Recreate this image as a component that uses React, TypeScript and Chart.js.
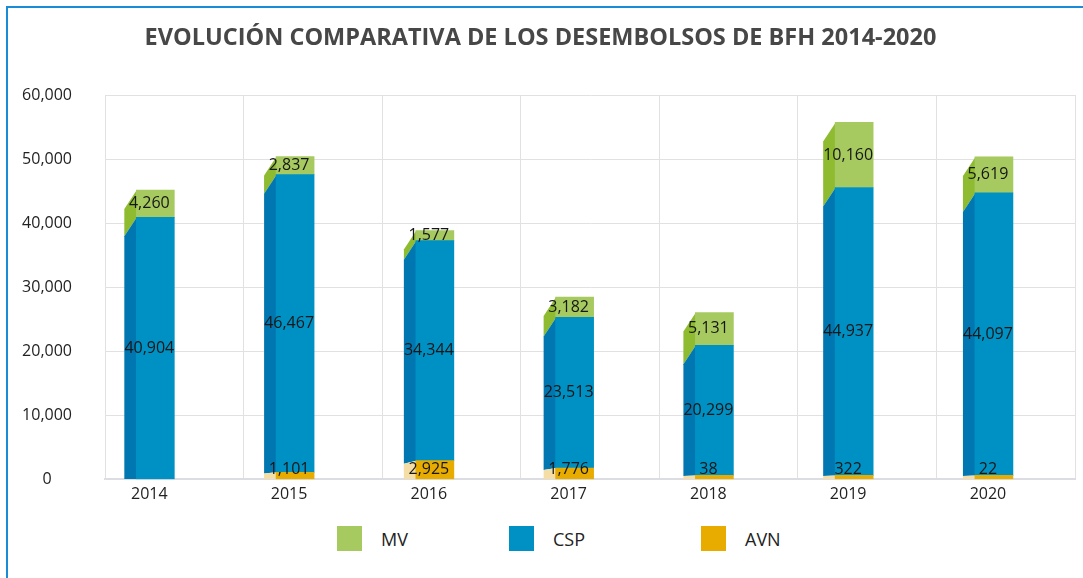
import React, { useEffect, useRef } from 'react';
import { Chart, registerables } from 'chart.js';

Chart.register(...registerables);

const TITLE = 'EVOLUCIÓN COMPARATIVA DE LOS DESEMBOLSOS DE BFH 2014-2020';
const YEARS = ['2014', '2015', '2016', '2017', '2018', '2019', '2020'];
const AVN: (number | null)[] = [null, 1101, 2925, 1776, 38, 322, 22];
const CSP = [40904, 46467, 34344, 23513, 20299, 44937, 44097];
const MV = [4260, 2837, 1577, 3182, 5131, 10160, 5619];
const SERIES_NAMES = ['AVN', 'CSP', 'MV'];
const LEGEND_ORDER = ['MV', 'CSP', 'AVN'];

const FRONT: Record<string, string> = { AVN: '#e8ac00', CSP: '#0091c4', MV: '#a6ca5f' };
const SIDE: Record<string, string> = { AVN: '#f4dea6', CSP: '#0077b0', MV: '#8ebb30' };
const LEGEND_X = [337, 509, 701];

const FONT = "'Open Sans', sans-serif";
const DEPTH = 12;

const sidePlugin = {
  id: 'side3d',
  beforeDatasetsDraw(chart: any) {
    const ctx = chart.ctx;
    const zero = chart.scales.y.getPixelForValue(0);
    const off = (p: number) => Math.min(19, Math.max(0, (zero - p) * 0.17));
    ctx.save();
    for (let d = chart.data.datasets.length - 1; d >= 0; d--) {
      const meta = chart.getDatasetMeta(d);
      const name = chart.data.datasets[d].label;
      ctx.fillStyle = SIDE[name];
      meta.data.forEach((el: any, i: number) => {
        const v = chart.data.datasets[d].data[i]?.y;
        if (v == null) return;
        const { x, y, base, width } = el.getProps(['x', 'y', 'base', 'width'], true);
        const L = x - width / 2;
        ctx.beginPath();
        ctx.moveTo(L + 0.5, y);
        ctx.lineTo(L - DEPTH, y + off(y));
        ctx.lineTo(L - DEPTH, base + off(base));
        ctx.lineTo(L + 0.5, base);
        ctx.closePath();
        ctx.fill();
      });
    }
    ctx.restore();
  },
};

const labelPlugin = {
  id: 'valueLabels',
  afterDatasetsDraw(chart: any) {
    const ctx = chart.ctx;
    const zero = chart.scales.y.getPixelForValue(0);
    ctx.save();
    ctx.font = `16px ${FONT}`;
    ctx.fillStyle = '#161616';
    ctx.textAlign = 'center';
    ctx.textBaseline = 'middle';
    chart.data.datasets.forEach((ds: any, d: number) => {
      const meta = chart.getDatasetMeta(d);
      meta.data.forEach((el: any, i: number) => {
        const v = ds.data[i]?.y;
        if (v == null || v === 0) return;
        const { x, y, base } = el.getProps(['x', 'y', 'base'], true);
        const cy = Math.min((y + base) / 2, zero - 10);
        ctx.fillText(v.toLocaleString('en-US'), x - DEPTH / 2, cy);
      });
    });
    ctx.restore();
  },
};

function BarChart() {
  const ref = useRef<HTMLCanvasElement | null>(null);
  useEffect(() => {
    if (!ref.current) return;
    const values: Record<string, (number | null)[]> = { AVN, CSP, MV };
    const chart = new Chart(ref.current, {
      type: 'bar',
      data: {
        labels: YEARS,
        datasets: SERIES_NAMES.map((name) => ({
          label: name,
          data: values[name].map((v, i) => ({ x: i, y: v })) as any,
          backgroundColor: FRONT[name],
          borderWidth: 0,
          barThickness: 38,
          minBarLength: name === 'AVN' ? 4 : 0,
          xAxisID: 'xb',
          yAxisID: 'y',
        })),
      },
      options: {
        responsive: true,
        maintainAspectRatio: false,
        animation: false,
        layout: { padding: { left: 6, right: 8, top: 0, bottom: 9 } },
        plugins: {
          legend: { display: false },
          tooltip: { enabled: false },
          title: {
            display: true,
            text: TITLE,
            color: '#474747',
            font: { family: FONT, size: 23.5, weight: 'bold' },
            padding: { top: 24, bottom: 42.8 },
          },
        },
        scales: {
          x: {
            type: 'category',
            position: 'bottom',
            weight: 0,
            offset: true,
            grid: { offset: true, drawTicks: false, color: '#e1e1e1', lineWidth: 1 },
            border: { display: true, color: '#dcdde2', width: 2 },
            ticks: { display: false },
          },
          xb: {
            type: 'linear',
            position: 'bottom',
            weight: 1,
            offset: false,
            min: -0.36,
            max: 6.58,
            stacked: true,
            grid: { display: false, drawTicks: false },
            border: { display: false },
            afterBuildTicks: (s: any) => {
              s.ticks = YEARS.map((_, i) => ({ value: i }));
            },
            ticks: {
              callback: (v: any) => YEARS[v as number],
              font: { family: FONT, size: 16 },
              color: '#222',
              padding: 5,
              labelOffset: -DEPTH / 2,
              autoSkip: false,
              maxRotation: 0,
            },
          } as any,
          y: {
            stacked: true,
            min: 0,
            max: 60000,
            grid: { color: '#e1e1e1', drawTicks: false },
            border: { display: true, color: '#e1e1e1' },
            ticks: {
              stepSize: 10000,
              callback: (v: any) => Number(v).toLocaleString('en-US'),
              crossAlign: 'center',
              padding: 33,
              font: { family: FONT, size: 16 },
              color: '#222',
            },
            afterFit: (s: any) => {
              s.width = 99;
            },
          },
        },
      },
      plugins: [sidePlugin, labelPlugin],
    });
    return () => chart.destroy();
  }, []);
  return <canvas ref={ref} />;
}

export default function App() {
  return (
    <div style={{ position: 'relative', width: 1083, height: 578, overflow: 'hidden', background: '#fff' }}>
      <style>{'body{margin:0;overflow:hidden;}'}</style>
      <div
        style={{
          position: 'absolute',
          left: 6,
          top: 6,
          width: 1077,
          height: 572,
          boxSizing: 'border-box',
          borderLeft: '2px solid #1a8bd6',
          borderTop: '2px solid #1a8bd6',
        }}
      />
      <div style={{ position: 'absolute', left: 0, top: 0, width: 1083, height: 522 }}>
        <BarChart />
      </div>
      {LEGEND_ORDER.map((name, i) => (
        <div
          key={name}
          style={{
            position: 'absolute',
            left: LEGEND_X[i],
            top: 526,
            height: 25,
            display: 'flex',
            alignItems: 'center',
            fontFamily: FONT,
            fontSize: 18,
            color: '#222',
          }}
        >
          <span style={{ display: 'inline-block', width: 25, height: 25, background: FRONT[name], marginRight: 19 }} />
          <span>{name}</span>
        </div>
      ))}
    </div>
  );
}
